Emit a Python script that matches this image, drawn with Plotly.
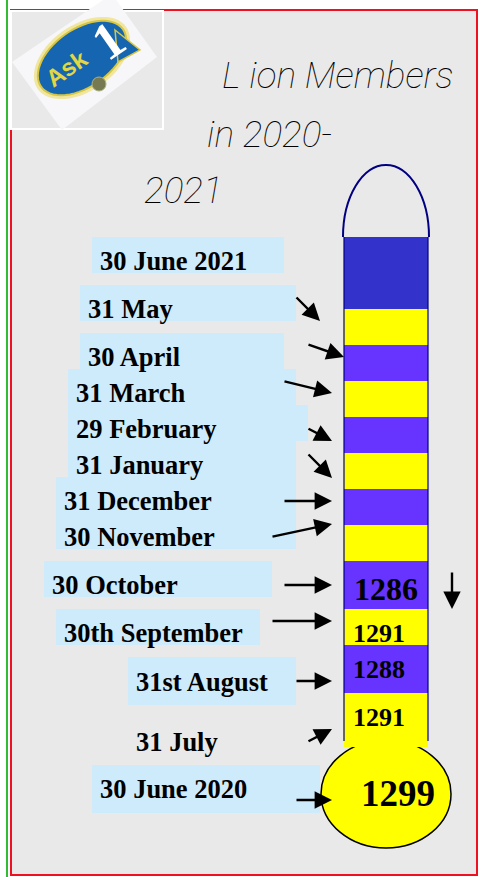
import numpy as np
import plotly.graph_objects as go

# ---------------- data ----------------
months = ["30 June 2020", "31 July", "31st August", "30th September", "30 October",
          "30 November", "31 December", "31 January", "29 February", "31 March",
          "30 April", "31 May", "30 June 2021"]
members = [1299, 1291, 1288, 1291, 1286, None, None, None, None, None, None, None, None]
title_lines = ["L ion Members", "in 2020-", "2021"]

# ---------------- layout geometry (pixels) ----------------
W, H = 482, 877
tube_x0, tube_x1 = 344, 428
tube_top = 237
# tube segment heights for months[1:] (July .. June 2021), bottom to top
seg_h = [54, 48, 36, 48, 36, 36, 36, 36, 36, 36, 36, 72]
seg_col = ["#ffff00", "#6633ff", "#ffff00", "#6633ff", "#ffff00", "#6633ff",
           "#ffff00", "#6633ff", "#ffff00", "#6633ff", "#ffff00", "#3333cc"]
bulb = dict(x0=321, x1=451, y0=740, y1=848)

# label boxes (x0,y0,x1,y1) and text anchor (x, y, size) per month
boxes = [(92, 765, 320, 813), None, (128, 657, 296, 705), (56, 609, 260, 645),
         (44, 561, 272, 597), (56, 513, 296, 549), (56, 477, 296, 513),
         (68, 441, 296, 477), (68, 405, 308, 441), (68, 369, 296, 405),
         (80, 333, 284, 369), (80, 285, 296, 321), (92, 237, 284, 273)]
text_pos = [(98, 789, 26.5), (134, 742, 26.5), (134, 682, 26.5), (62, 633, 26.5),
            (50, 585, 26.5), (62, 537, 26.5), (62, 501, 26.5), (74, 465, 26.5),
            (74, 429, 26.5), (74, 393, 26.5), (86, 357, 26.5), (86, 309, 26.5),
            (98, 261, 26.5)]
# arrows: (tail x, tail y, tip x, tip y)
arrows = [(295, 800, 332, 800), (307, 742, 332, 729), (295, 681, 332, 681),
          (271, 621, 332, 621), (283, 585, 332, 585), (271, 537, 332, 524),
          (283, 501, 332, 501), (307, 453, 332, 478), (307, 428, 332, 441),
          (283, 381, 332, 393), (307, 344, 344, 357), (295, 296, 320, 321), None]
# value label positions (x, y, size, anchor) for months with values
val_pos = [(398, 793, 37, "center"), (351, 717, 26, "left"), (351, 669, 26, "left"),
           (351, 633, 26, "left"), (386, 589, 32, "center")]

SERIF = "Liberation Serif, Times New Roman, serif"
ARW = dict(showarrow=True, arrowhead=2, arrowsize=1.45, arrowwidth=2.4, arrowcolor="black",
           axref="x", ayref="y", text="")

fig = go.Figure()
shapes = []
annos = []

# page frame
shapes.append(dict(type="rect", x0=11, y0=10, x1=477, y1=875, fillcolor="#e9e9e9",
                   line=dict(color="#ee1122", width=2), layer="below"))
shapes.append(dict(type="line", x0=7, y0=0, x1=7, y1=H, line=dict(color="#33bb33", width=2),
                   layer="below"))

# logo
shapes.append(dict(type="rect", x0=11, y0=11, x1=163, y1=129, fillcolor="rgba(0,0,0,0)",
                   line=dict(color="white", width=2), layer="below"))
shapes.append(dict(type="path", path="M 12 62 L 112 -6 L 157 57 L 62 130 Z",
                   fillcolor="#f7f7fa", line=dict(width=0), layer="below"))
t = np.linspace(0, 2 * np.pi, 60)
ang = np.deg2rad(-35)
def ell(cx, cy, a, b):
    ex, ey = a * np.cos(t), b * np.sin(t)
    px = cx + ex * np.cos(ang) - ey * np.sin(ang)
    py = cy + ex * np.sin(ang) + ey * np.cos(ang)
    return "M " + " L ".join(f"{x:.1f} {y:.1f}" for x, y in zip(px, py)) + " Z"
shapes.append(dict(type="path", path=ell(82, 58, 54, 33), fillcolor="#f0e6a0",
                   line=dict(width=0), layer="below"))
shapes.append(dict(type="path", path=ell(82, 58, 50, 29), fillcolor="#1565b0",
                   line=dict(color="#d8c640", width=2), layer="below"))
shapes.append(dict(type="path", path="M 115 30 L 140 50 L 118 62 Z", fillcolor="#1565b0",
                   line=dict(color="#d8c640", width=1.5), layer="below"))
shapes.append(dict(type="circle", x0=92, y0=77, x1=106, y1=91, fillcolor="#777a50",
                   line=dict(color="#aab080", width=1), layer="below"))
annos.append(dict(x=66, y=68, text="<b>Ask</b>", showarrow=False, textangle=-35,
                  font=dict(family="Arial, Liberation Sans", size=24, color="#e2d646")))
annos.append(dict(x=108, y=40, text="<b>1</b>", showarrow=False, textangle=-35,
                  font=dict(family=SERIF, size=52, color="white")))

# title
title_pos = [(220, 75), (205, 134), (142, 190)]
for txt, (tx, ty) in zip(title_lines, title_pos):
    annos.append(dict(x=tx, y=ty, text=txt, showarrow=False, xanchor="left", yanchor="middle",
                      font=dict(family="Roboto, sans-serif", size=37,
                                color="black", style="italic", weight=100)))

# label boxes
for b in boxes:
    if b is None:
        continue
    shapes.append(dict(type="rect", x0=b[0], y0=b[1], x1=b[2], y1=b[3], fillcolor="#cdebfb",
                       line=dict(width=0), layer="below"))

# bulb (below tube)
shapes.append(dict(type="circle", **bulb, fillcolor="#ffff00",
                   line=dict(color="black", width=1.5), layer="below"))

# dome
k = 0.5523
cx = (tube_x0 + tube_x1) / 2
rx = (tube_x1 - tube_x0) / 2 + 1
ry = 72
dome = (f"M {cx-rx} {tube_top} C {cx-rx} {tube_top-k*ry}, {cx-k*rx} {tube_top-ry}, {cx} {tube_top-ry} "
        f"C {cx+k*rx} {tube_top-ry}, {cx+rx} {tube_top-k*ry}, {cx+rx} {tube_top}")
shapes.append(dict(type="path", path=dome, line=dict(color="#000080", width=2)))

# tube segments as bars
bottom = bulb["y0"] + 7
bases = []
y = bottom
for h in seg_h:
    bases.append(y - h)
    y -= h
fig.add_trace(go.Bar(x=[cx] * len(seg_h), y=seg_h, base=bases, width=tube_x1 - tube_x0,
                     marker=dict(color=seg_col, line=dict(width=0)),
                     hoverinfo="text", hovertext=months[1:], showlegend=False))
# tube side lines
for xx in (tube_x0, tube_x1):
    shapes.append(dict(type="line", x0=xx, x1=xx, y0=tube_top, y1=bottom - 6,
                       line=dict(color="#000080", width=1.2)))

# month labels
for m, (tx, ty, sz) in zip(months, text_pos):
    annos.append(dict(x=tx, y=ty, text=f"<b>{m}</b>", showarrow=False, xanchor="left",
                      yanchor="middle", font=dict(family=SERIF, size=sz, color="black")))

# arrows
for a in arrows:
    if a is None:
        continue
    annos.append(dict(x=a[2], y=a[3], ax=a[0], ay=a[1], **ARW))
annos.append(dict(x=452, y=609, ax=452, ay=571, **ARW))

# values
for v, (vx, vy, sz, anc) in zip(members, val_pos):
    annos.append(dict(x=vx, y=vy, text=f"<b>{v}</b>", showarrow=False, xanchor=anc,
                      yanchor="middle", font=dict(family=SERIF, size=sz, color="black")))

fig.update_layout(
    width=W, height=H, margin=dict(l=0, r=0, t=0, b=0),
    paper_bgcolor="white", plot_bgcolor="white",
    xaxis=dict(range=[0, W], visible=False, fixedrange=True),
    yaxis=dict(range=[H, 0], visible=False, fixedrange=True),
    shapes=shapes, annotations=annos, showlegend=False, bargap=0,
)
fig.write_html("out.html", config={"displayModeBar": False},
               post_script="document.body.style.margin='0';document.body.style.overflow='hidden';")
